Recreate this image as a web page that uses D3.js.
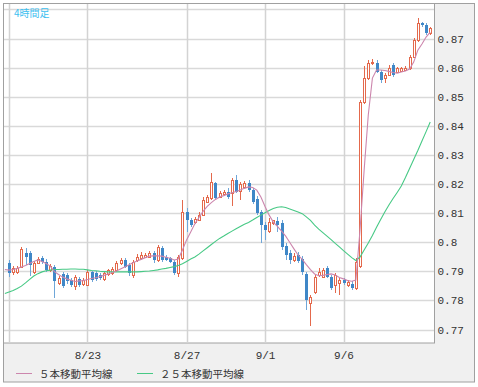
<!DOCTYPE html>
<html lang="ja">
<head>
<meta charset="UTF-8">
<title>4時間足</title>
<style>
    body { margin: 0; background: #fff; }
    svg { display: block; }
</style>
</head>
<body>
<svg id="chart" width="478" height="387"></svg>
<script src="https://d3js.org/d3.v7.min.js"></script>
<script>
// 4時間足 OHLC (bar 0 .. 102)
const opens = [.7929,.7898,.7896,.7916,.7963,.7963,.7896,.7930,.7946,.7932,
    .7905,.7915,.7860,.7892,.7887,.7870,.7850,.7874,.7856,.7853,
    .7896,.7894,.7887,.7874,.7891,.7894,.7905,.7927,.7939,.7922,
    .7887,.7939,.7945,.7950,.7950,.7962,.7939,.7979,.7950,.7945,
    .7933,.7893,.7945,.8105,.8076,.8069,.8076,.8093,.8139,.8151,
    .8202,.8156,.8164,.8174,.8168,.8214,.8176,.8191,.8203,.8179,
    .8149,.8104,.8059,.8038,.8065,.8073,.8065,.7987,.7963,.7939,
    .7956,.7942,.7891,.7791,.7829,.7887,.7881,.7910,.7880,.7853,
    .7859,.7870,.7853,.7856,.7843,.7918,.8482,.8564,.8615,.8617,
    .8586,.8563,.8575,.8609,.8585,.8590,.8592,.8598,.8637,.8695,
    .8752,.8746,.8718];
const highs = [.7939,.7918,.7918,.7982,.7980,.7970,.7935,.7949,.7953,.7942,
    .7925,.7922,.7884,.7898,.7894,.7877,.7887,.7880,.7877,.7905,
    .7901,.7901,.7894,.7901,.7908,.7915,.7935,.7946,.7946,.7929,
    .7939,.7959,.7966,.7963,.7970,.7970,.7991,.7987,.7956,.7949,
    .7939,.7956,.8145,.8117,.8083,.8088,.8104,.8155,.8162,.8237,
    .8207,.8176,.8179,.8186,.8221,.8231,.8207,.8210,.8214,.8186,
    .8159,.8111,.8069,.8083,.8078,.8088,.8076,.7997,.7973,.7963,
    .7966,.7953,.7898,.7819,.7887,.7911,.7911,.7918,.7887,.7894,
    .7877,.7877,.7870,.7867,.7946,.8489,.8606,.8626,.8630,.8626,
    .8592,.8581,.8609,.8616,.8602,.8602,.8605,.8643,.8702,.8769,
    .8758,.8753,.8741];
const lows = [.7881,.7887,.7891,.7911,.7922,.7884,.7891,.7925,.7925,.7898,
    .7898,.7808,.7853,.7843,.7856,.7846,.7836,.7846,.7850,.7850,
    .7863,.7867,.7870,.7867,.7884,.7887,.7898,.7922,.7911,.7885,
    .7877,.7932,.7939,.7946,.7946,.7929,.7932,.7932,.7935,.7929,
    .7887,.7881,.7939,.8036,.8052,.8062,.8073,.8093,.8135,.8145,
    .8145,.8152,.8159,.8148,.8124,.8169,.8145,.8183,.8172,.8131,
    .8093,.7997,.8008,.8032,.8059,.8035,.7973,.7939,.7925,.7932,
    .7929,.7887,.7767,.7712,.7822,.7880,.7877,.7877,.7836,.7825,
    .7819,.7853,.7846,.7836,.7836,.7911,.8475,.8557,.8609,.8581,
    .8546,.8546,.8571,.8568,.8580,.8585,.8588,.8592,.8633,.8688,
    .8741,.8712,.8712];
const closes = [.7895,.7911,.7911,.7975,.7949,.7922,.7930,.7942,.7932,.7905,
    .7917,.7865,.7877,.7848,.7865,.7853,.7882,.7853,.7870,.7899,
    .7870,.7874,.7877,.7894,.7903,.7908,.7930,.7939,.7916,.7894,
    .7933,.7950,.7956,.7956,.7962,.7939,.7985,.7939,.7939,.7933,
    .7893,.7950,.8105,.8076,.8059,.8081,.8093,.8145,.8155,.8208,
    .8151,.8169,.8174,.8156,.8214,.8174,.8200,.8202,.8179,.8139,
    .8100,.8059,.8042,.8069,.8075,.8059,.7984,.7956,.7939,.7954,
    .7935,.7898,.7801,.7812,.7880,.7899,.7905,.7881,.7843,.7887,
    .7870,.7859,.7863,.7843,.7932,.8482,.8564,.8615,.8620,.8586,
    .8557,.8575,.8598,.8575,.8597,.8598,.8598,.8637,.8695,.8752,
    .8746,.8718,.8735];

// moving averages, from bar -1 to bar 102
const ma5 = [.7906,.7904,.7906,.7910,.7915,.7920,.7927,.7934,.7939,.7934,
    .7927,.7918,.7899,.7889,.7880,.7874,.7869,.7865,.7867,.7868,
    .7872,.7875,.7878,.7882,.7886,.7891,.7896,.7901,.7908,.7915,
    .7922,.7929,.7935,.7941,.7947,.7952,.7953,.7953,.7952,.7948,
    .7945,.7939,.7942,.7973,.8008,.8035,.8063,.8085,.8106,.8123,
    .8136,.8147,.8155,.8160,.8166,.8170,.8174,.8179,.8185,.8190,
    .8188,.8179,.8155,.8123,.8093,.8069,.8054,.8038,.8021,.7999,
    .7977,.7956,.7941,.7923,.7906,.7891,.7885,.7886,.7889,.7891,
    .7887,.7879,.7874,.7868,.7866,.7870,.8042,.8248,.8437,.8564,
    .8592,.8592,.8590,.8587,.8583,.8581,.8585,.8588,.8595,.8619,
    .8660,.8681,.8705,.8722];
const ma25 = [.7824,.7829,.7834,.7841,.7849,.7860,.7872,.7884,.7892,.7898,
    .7902,.7904,.7906,.7906,.7907,.7907,.7908,.7908,.7907,.7907,
    .7905,.7903,.7902,.7900,.7899,.7898,.7898,.7898,.7898,.7898,
    .7898,.7898,.7898,.7899,.7900,.7901,.7903,.7905,.7908,.7910,
    .7913,.7916,.7920,.7926,.7934,.7942,.7949,.7959,.7970,.7981,
    .7992,.8003,.8013,.8021,.8030,.8038,.8046,.8054,.8062,.8068,
    .8076,.8085,.8093,.8101,.8109,.8116,.8120,.8122,.8119,.8114,
    .8109,.8104,.8098,.8087,.8075,.8059,.8045,.8033,.8021,.8009,
    .7996,.7984,.7971,.7959,.7947,.7937,.7949,.7973,.7997,.8023,
    .8051,.8078,.8104,.8128,.8150,.8171,.8193,.8222,.8253,.8284,
    .8315,.8348,.8380,.8413];

const dateTickBars = [0, 19, 43, 62, 81];
const dateTickLabels = ["", "8/23", "8/27", "9/1", "9/6"];
const priceTicks = [0.77, 0.78, 0.79, 0.80, 0.81, 0.82, 0.83, 0.84, 0.85, 0.86, 0.87, 0.88];
const priceLabels = ["0.77", "0.78", "0.79", "0.8", "0.81", "0.82", "0.83", "0.84", "0.85", "0.86", "0.87", ""];
const legendNames = ["５本移動平均線", "２５本移動平均線"];

const upColor = "#e4694c", downColor = "#3f87c7";
const ma5Color = "#cc86ad", ma25Color = "#47c985";

const plot = { left: 3, top: 4, right: 434.5, bottom: 343 };

const svg = d3.select("#chart");

// outer panel
svg.append("rect")
    .attr("x", 3.5).attr("y", 3.5)
    .attr("width", 471).attr("height", 378.5)
    .attr("fill", "#f0f0f0")
    .attr("stroke", "#a0a0a0");

svg.append("rect")
    .attr("x", plot.left + 0.5).attr("y", plot.top - 0.5)
    .attr("width", plot.right - plot.left - 0.5)
    .attr("height", plot.bottom - plot.top + 0.5)
    .attr("fill", "#fff")
    .attr("stroke", "#a0a0a0");

const x = d3.scaleLinear().domain([0, 81]).range([9, 343.5]);
const y = d3.scaleLinear().domain([0.77, 0.87]).range([329.5, 38.5]);

svg.append("clipPath").attr("id", "clip")
    .append("rect")
    .attr("x", plot.left + 1).attr("y", plot.top)
    .attr("width", plot.right - plot.left - 1.5)
    .attr("height", plot.bottom - plot.top - 0.5);

const g = svg.append("g").attr("clip-path", "url(#clip)");

// grid
g.selectAll("line.hgrid")
    .data(priceTicks)
    .join("line")
    .attr("class", "hgrid")
    .attr("x1", plot.left).attr("x2", plot.right)
    .attr("y1", d => Math.round(y(d)) + 0.5)
    .attr("y2", d => Math.round(y(d)) + 0.5)
    .attr("stroke", "#d9d9d9")
    .attr("stroke-width", 1.5);

g.selectAll("line.vgrid")
    .data(dateTickBars)
    .join("line")
    .attr("class", "vgrid")
    .attr("x1", d => Math.round(x(d)) + 0.5)
    .attr("x2", d => Math.round(x(d)) + 0.5)
    .attr("y1", plot.top).attr("y2", plot.bottom)
    .attr("stroke", "#d3d3d3")
    .attr("stroke-width", 1.5);

// candles
const bars = d3.range(opens.length).map(i => ({
    i, o: opens[i], h: highs[i], l: lows[i], c: closes[i]
}));

const candle = g.selectAll("g.candle")
    .data(bars)
    .join("g")
    .attr("class", "candle");

candle.append("line")
    .attr("x1", d => Math.round(x(d.i)) + 0.5)
    .attr("x2", d => Math.round(x(d.i)) + 0.5)
    .attr("y1", d => Math.round(y(d.h)))
    .attr("y2", d => Math.round(y(d.l)))
    .attr("stroke", d => d.c >= d.o ? upColor : "#6fa6d8")
    .attr("stroke-width", 1);

candle.append("rect")
    .attr("x", d => d.c >= d.o ? Math.round(x(d.i)) - 0.5 : Math.round(x(d.i)) - 1)
    .attr("y", d => {
        const top = Math.round(y(Math.max(d.o, d.c)));
        return d.c >= d.o ? top + 0.5 : top;
    })
    .attr("width", d => d.c >= d.o ? 2 : 3)
    .attr("height", d => Math.max(1, Math.round(y(Math.min(d.o, d.c))) - Math.round(y(Math.max(d.o, d.c)))))
    .attr("fill", d => d.c >= d.o ? "#fff" : downColor)
    .attr("stroke", d => d.c >= d.o ? upColor : "none")
    .attr("stroke-width", 1);

// moving averages (first point sits one bar left of bar 0)
const maLine = d3.line()
    .x((d, i) => x(i - 1))
    .y(d => y(d));

g.append("path")
    .datum(ma25)
    .attr("fill", "none")
    .attr("stroke", ma25Color)
    .attr("stroke-width", 1.1)
    .attr("d", maLine);

g.append("path")
    .datum(ma5)
    .attr("fill", "none")
    .attr("stroke", ma5Color)
    .attr("stroke-width", 1.1)
    .attr("d", maLine);

// axes labels
const yAxis = d3.axisRight(y)
    .tickValues(priceTicks.slice(0, -1))
    .tickFormat((d, i) => priceLabels[i])
    .tickSize(0)
    .tickPadding(3);

svg.append("g")
    .attr("transform", `translate(${plot.right},0)`)
    .call(yAxis)
    .call(a => a.select(".domain").remove())
    .selectAll("text")
    .attr("font-family", "'Liberation Mono', monospace")
    .attr("font-size", 11)
    .attr("fill", "#333");

const xAxis = d3.axisBottom(x)
    .tickValues(dateTickBars)
    .tickFormat((d, i) => dateTickLabels[i])
    .tickSize(0)
    .tickPadding(8);

svg.append("g")
    .attr("transform", `translate(0,${plot.bottom})`)
    .call(xAxis)
    .call(a => a.select(".domain").remove())
    .selectAll("text")
    .attr("font-family", "'Liberation Mono', monospace")
    .attr("font-size", 11)
    .attr("fill", "#333");

// title tag
svg.append("text")
    .attr("x", 14).attr("y", 17)
    .attr("font-family", "'Noto Sans CJK JP', sans-serif")
    .attr("font-size", 10)
    .attr("fill", "#3cc0f0")
    .text("4時間足");

// legend
const legendX = [16, 137];
const legendColors = [ma5Color, ma25Color];
const legend = svg.append("g");
legendNames.forEach((name, i) => {
    legend.append("line")
        .attr("x1", legendX[i]).attr("x2", legendX[i] + 16)
        .attr("y1", 373.5).attr("y2", 373.5)
        .attr("stroke", legendColors[i]);
    legend.append("text")
        .attr("x", legendX[i] + 23)
        .attr("y", 377.5)
        .attr("font-family", "'Noto Sans CJK JP', sans-serif")
        .attr("font-size", 10.5)
        .attr("fill", "#333")
        .text(name);
});
</script>
</body>
</html>
